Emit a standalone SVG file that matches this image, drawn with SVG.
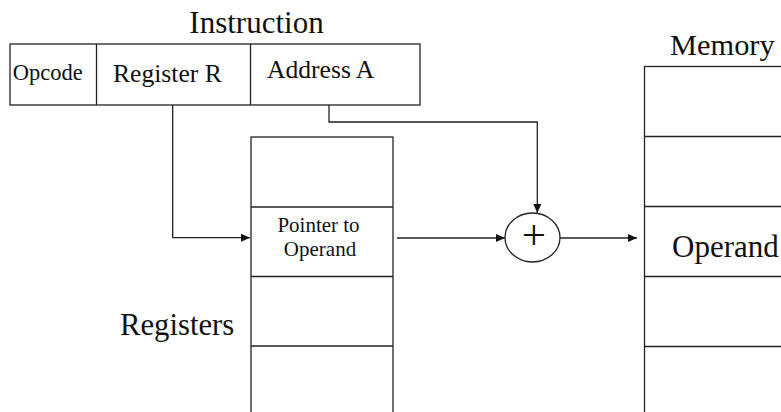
<svg xmlns="http://www.w3.org/2000/svg" width="781" height="412" viewBox="0 0 781 412">
<style>
.box{fill:#fff;stroke:#222;stroke-width:1.3}
.ln{fill:none;stroke:#222;stroke-width:1.3}
.t{fill:#111}
</style>
<defs>
<marker id="ah" markerWidth="9" markerHeight="8" refX="9" refY="4" orient="auto" markerUnits="userSpaceOnUse">
<path d="M0,0 L9,4 L0,8 Z" fill="#111"/>
</marker>
</defs>
<rect width="781" height="412" fill="#fff"/>
<g id="instruction">
<text class="t" font-family="Liberation Serif" x="256.5" y="33" font-size="31" text-anchor="middle">Instruction</text>
<rect class="box" x="10" y="44" width="410" height="61"/>
<line class="ln" x1="96.5" y1="44" x2="96.5" y2="105"/>
<line class="ln" x1="250.5" y1="44" x2="250.5" y2="105"/>
<text class="t" font-family="Liberation Serif" x="12.7" y="80" font-size="22.5" textLength="70" lengthAdjust="spacingAndGlyphs">Opcode</text>
<text class="t" font-family="Liberation Serif" x="113" y="82" font-size="25.6">Register R</text>
<text class="t" font-family="Liberation Serif" x="267" y="78" font-size="25.6">Address A</text>
</g>
<g id="registers">
<rect class="box" x="251" y="137" width="142" height="290"/>
<line class="ln" x1="251" y1="207" x2="393" y2="207"/>
<line class="ln" x1="251" y1="276.5" x2="393" y2="276.5"/>
<line class="ln" x1="251" y1="346" x2="393" y2="346"/>
<text class="t" font-family="Liberation Serif" x="318.5" y="232" font-size="21" text-anchor="middle">Pointer to</text>
<text class="t" font-family="Liberation Serif" x="320" y="256" font-size="21" text-anchor="middle">Operand</text>
<text class="t" font-family="Liberation Serif" x="120" y="335" font-size="30.7">Registers</text>
</g>
<g id="adder">
<ellipse class="box" cx="532.5" cy="237.5" rx="27.5" ry="24.5"/>
<text class="t" font-family="Liberation Serif" x="534" y="248.5" font-size="43" text-anchor="middle">+</text>
</g>
<g id="memory">
<text class="t" font-family="Liberation Serif" x="670" y="55" font-size="30.4">Memory</text>
<rect class="box" x="644.5" y="66.5" width="160" height="360"/>
<line class="ln" x1="644.5" y1="136.5" x2="781" y2="136.5"/>
<line class="ln" x1="644.5" y1="206.5" x2="781" y2="206.5"/>
<line class="ln" x1="644.5" y1="276.5" x2="781" y2="276.5"/>
<line class="ln" x1="644.5" y1="346.5" x2="781" y2="346.5"/>
<text class="t" font-family="Liberation Serif" x="672" y="257" font-size="31">Operand</text>
</g>
<g id="connectors">
<path class="ln" d="M172.7,105 V237.7 H250" marker-end="url(#ah)"/>
<path class="ln" d="M329,105 V122 H537.3 V213" marker-end="url(#ah)"/>
<path class="ln" d="M397,238 H505" marker-end="url(#ah)"/>
<path class="ln" d="M560,238 H637" marker-end="url(#ah)"/>
</g>
</svg>
